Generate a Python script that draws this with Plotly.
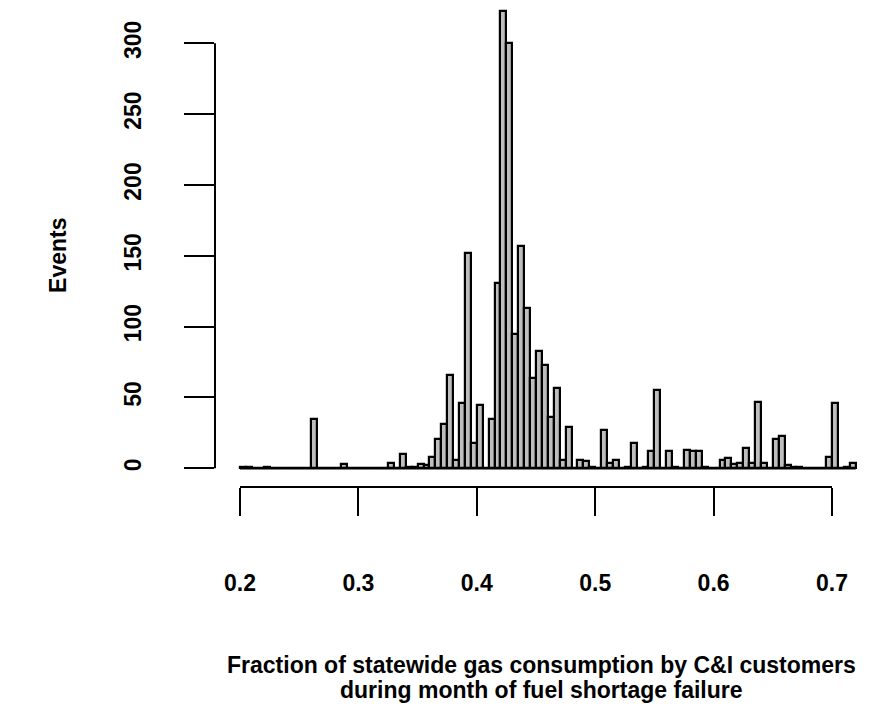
import plotly.graph_objects as go

# Histogram data (bin width 0.005 starting at 0.2)
bin_start = 0.2
bin_width = 0.005
counts = [
    1, 1, 0, 0, 1, 0, 0, 0, 0, 0,      # 0.200 - 0.250
    0, 0, 35, 0, 0, 0, 0, 3, 0, 0,     # 0.250 - 0.300
    0, 0, 0, 0, 0, 4, 0, 10, 1, 1,     # 0.300 - 0.350
    3, 2, 8, 21, 31, 66, 6, 46, 152, 18,   # 0.350 - 0.400
    45, 0, 35, 131, 323, 300, 95, 157, 113, 64,  # 0.400 - 0.450
    83, 73, 36, 57, 6, 29, 0, 6, 5, 1,   # 0.450 - 0.500
    0, 27, 4, 6, 0, 1, 18, 0, 1, 12,     # 0.500 - 0.550
    55, 0, 12, 1, 0, 13, 12, 12, 1, 0,   # 0.550 - 0.600
    0, 6, 7, 3, 4, 14, 4, 47, 4, 0,      # 0.600 - 0.650
    21, 23, 2, 1, 1, 0, 0, 0, 0, 8,      # 0.650 - 0.700
    46, 0, 1, 4,                          # 0.700 - 0.720
]
x_ticks = [0.2, 0.3, 0.4, 0.5, 0.6, 0.7]
x_tick_labels = ["0.2", "0.3", "0.4", "0.5", "0.6", "0.7"]
y_ticks = [0, 50, 100, 150, 200, 250, 300]
y_tick_labels = ["0", "50", "100", "150", "200", "250", "300"]
x_title_lines = ["Fraction of statewide gas consumption by C&I customers",
                 "during month of fuel shortage failure"]
y_title = "Events"

centers = [bin_start + bin_width * (i + 0.5) for i in range(len(counts))]
first_edge = bin_start
last_edge = bin_start + bin_width * len(counts)

FONT = "Liberation Sans, Arial, sans-serif"
FS = 23

fig = go.Figure()
fig.add_trace(go.Bar(
    x=centers, y=counts, width=bin_width,
    marker=dict(color="#bebebe", line=dict(color="black", width=2.2)),
    cliponaxis=False,
))

shapes = [
    # baseline drawn by zero-height bins
    dict(type="line", xref="x", yref="y", x0=first_edge, x1=last_edge, y0=0, y1=0,
         line=dict(color="black", width=2.5)),
    # R-style x axis line (first to last tick)
    dict(type="line", xref="x", yref="paper", x0=x_ticks[0], x1=x_ticks[-1], y0=0, y1=0,
         line=dict(color="black", width=2)),
    # R-style y axis line (first to last tick)
    dict(type="line", xref="paper", yref="y", x0=0, x1=0, y0=y_ticks[0], y1=y_ticks[-1],
         line=dict(color="black", width=2)),
]

annotations = [
    dict(text="<b>" + x_title_lines[0] + "</b>",
         xref="paper", yref="paper", x=0.495, y=-0.369, xanchor="center", yanchor="middle",
         showarrow=False, font=dict(family=FONT, size=FS, color="black")),
    dict(text="<b>" + x_title_lines[1] + "</b>",
         xref="paper", yref="paper", x=0.495, y=-0.421, xanchor="center", yanchor="middle",
         showarrow=False, font=dict(family=FONT, size=FS, color="black")),
    dict(text="<b>" + y_title + "</b>", textangle=-90,
         xref="paper", yref="paper", x=-0.239, y=0.48, xanchor="center", yanchor="middle",
         showarrow=False, font=dict(family=FONT, size=FS, color="black")),
]

fig.update_layout(
    width=881, height=713,
    margin=dict(l=215, r=6, t=5, b=226),
    paper_bgcolor="white", plot_bgcolor="white",
    showlegend=False,
    bargap=0,
    shapes=shapes,
    annotations=annotations,
    font=dict(family=FONT, color="black"),
    xaxis=dict(
        range=[0.17889, 0.73632], showgrid=False, zeroline=False, showline=False,
        tickmode="array", tickvals=x_ticks, ticktext=["<b>%s</b>" % t for t in x_tick_labels],
        ticks="outside", ticklen=28, tickwidth=2, tickcolor="black",
        ticklabelstandoff=47,
        tickfont=dict(family=FONT, size=FS, color="black"),
    ),
    yaxis=dict(
        range=[-13.2, 327.0], showgrid=False, zeroline=False, showline=False,
        tickmode="array", tickvals=y_ticks, ticktext=["<b>%s</b>" % t for t in y_tick_labels],
        ticks="outside", ticklen=30, tickwidth=2, tickcolor="black",
        tickangle=-90, ticklabelstandoff=34,
        tickfont=dict(family=FONT, size=FS, color="black"),
    ),
)

fig.write_html("out.html")
